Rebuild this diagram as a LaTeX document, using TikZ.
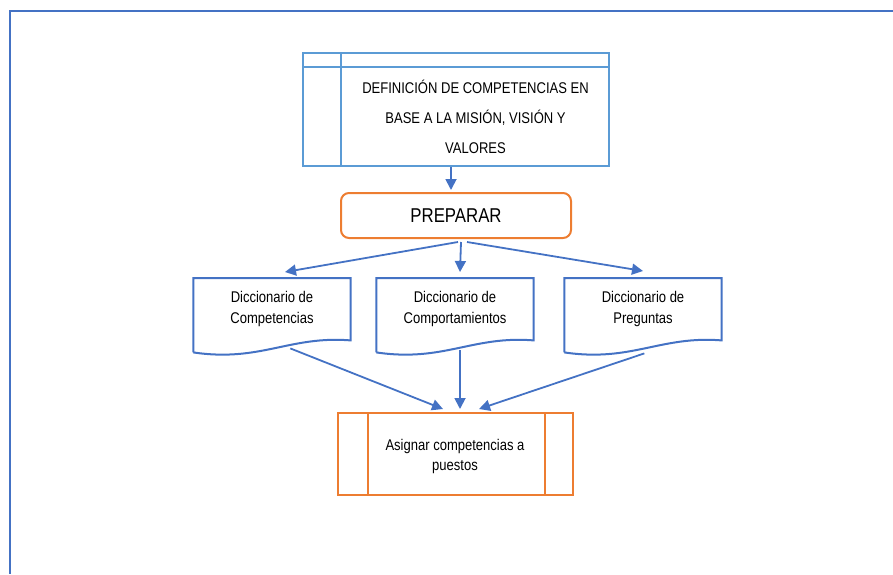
\documentclass[tikz,border=0pt]{standalone}
\usepackage{fontspec}
\setmainfont{Liberation Sans}[FakeStretch=0.84]
\usetikzlibrary{arrows.meta,calc}
\definecolor{frameblue}{HTML}{4472C4}
\definecolor{lightblue}{HTML}{5B9BD5}
\definecolor{accent}{HTML}{ED7D31}

\begin{document}
\begin{tikzpicture}[x=1pt,y=-1pt,
  frame/.style={draw=frameblue,line width=2.6},
  headbox/.style={draw=lightblue,line width=2,minimum width=306,minimum height=113,inner sep=0},
  stage/.style={draw=accent,line width=2,rounded corners=8,minimum width=230,minimum height=45,font=\fontsize{20}{22}\selectfont},
  docbody/.style={minimum width=157,minimum height=62,inner sep=0,align=center,font=\fontsize{15.5}{21}\selectfont},
  docline/.style={draw=frameblue,line width=2},
  procbox/.style={draw=accent,line width=2,minimum width=235,minimum height=82,inner sep=0},
  label/.style={align=center,font=\fontsize{15.5}{20}\selectfont},
  flow/.style={draw=frameblue,line width=1.8,-{Triangle[length=11,width=11]}}
]
\useasboundingbox (0,0) rectangle (893,574);

% outer frame
\draw[frame] (893,11) -- (10,11) -- (10,574);

% heading box with its header row and side column
\node[headbox] (def) at (456,109.5) {};
\draw[draw=lightblue,line width=2] ($(def.north west)+(0,15)$) -- ($(def.north east)+(0,15)$);
\draw[draw=lightblue,line width=2] ($(def.north west)+(39,0)$) -- ($(def.south west)+(39,0)$);
\node[label,font=\fontsize{15.5}{30}\selectfont] (deftext) at (475.5,117)
  {DEFINICIÓN DE COMPETENCIAS EN\\BASE A LA MISIÓN, VISIÓN Y\\VALORES};

% preparation step
\node[stage] (prep) at (456,215.5) {PREPARAR};

% the three dictionaries
\node[docbody,anchor=north] (d1) at (272,278) {Diccionario de\\Competencias};
\node[docbody,anchor=north] (d2) at (455,278) {Diccionario de\\Comportamientos};
\node[docbody,anchor=north] (d3) at (643,278) {Diccionario de\\Preguntas};
\foreach \d in {d1,d2,d3}{
  \draw[docline] ($(\d.south west)+(0,12)$) -- (\d.north west) -- (\d.north east) -- (\d.south east)
    .. controls ($(\d.south east)+(-61,-5)$) and ($(\d.south west)+(67,22)$) .. ($(\d.south west)+(0,12)$);
}

% assignment process
\node[procbox] (asig) at (455,454) {};
\draw[draw=accent,line width=2] ($(asig.north west)+(31,0)$) -- ($(asig.south west)+(31,0)$);
\draw[draw=accent,line width=2] ($(asig.north east)+(-29,0)$) -- ($(asig.south east)+(-29,0)$);
\node[label] (asigtext) at (455,456) {Asignar competencias a\\puestos};

% connectors
\draw[flow] ($(def.south)+(-5,0)$) -- ($(prep.north)+(-5,-2)$);
\draw[flow] ($(prep.south)+(2,3)$) -- ($(d1.north)+(13,-6)$);
\draw[flow] ($(prep.south)+(5,3)$) -- ($(d2.north)+(5,-6)$);
\draw[flow] ($(prep.south)+(11,3)$) -- ($(d3.north)+(0,-7)$);
\draw[flow] ($(d1.south west)+(97,8)$) -- ($(asig.north)+(-12,-3)$);
\draw[flow] ($(d2.south)+(5,10)$) -- ($(asig.north)+(5,-3)$);
\draw[flow] ($(d3.south west)+(80,13)$) -- ($(asig.north)+(24,-3)$);
\end{tikzpicture}
\end{document}
